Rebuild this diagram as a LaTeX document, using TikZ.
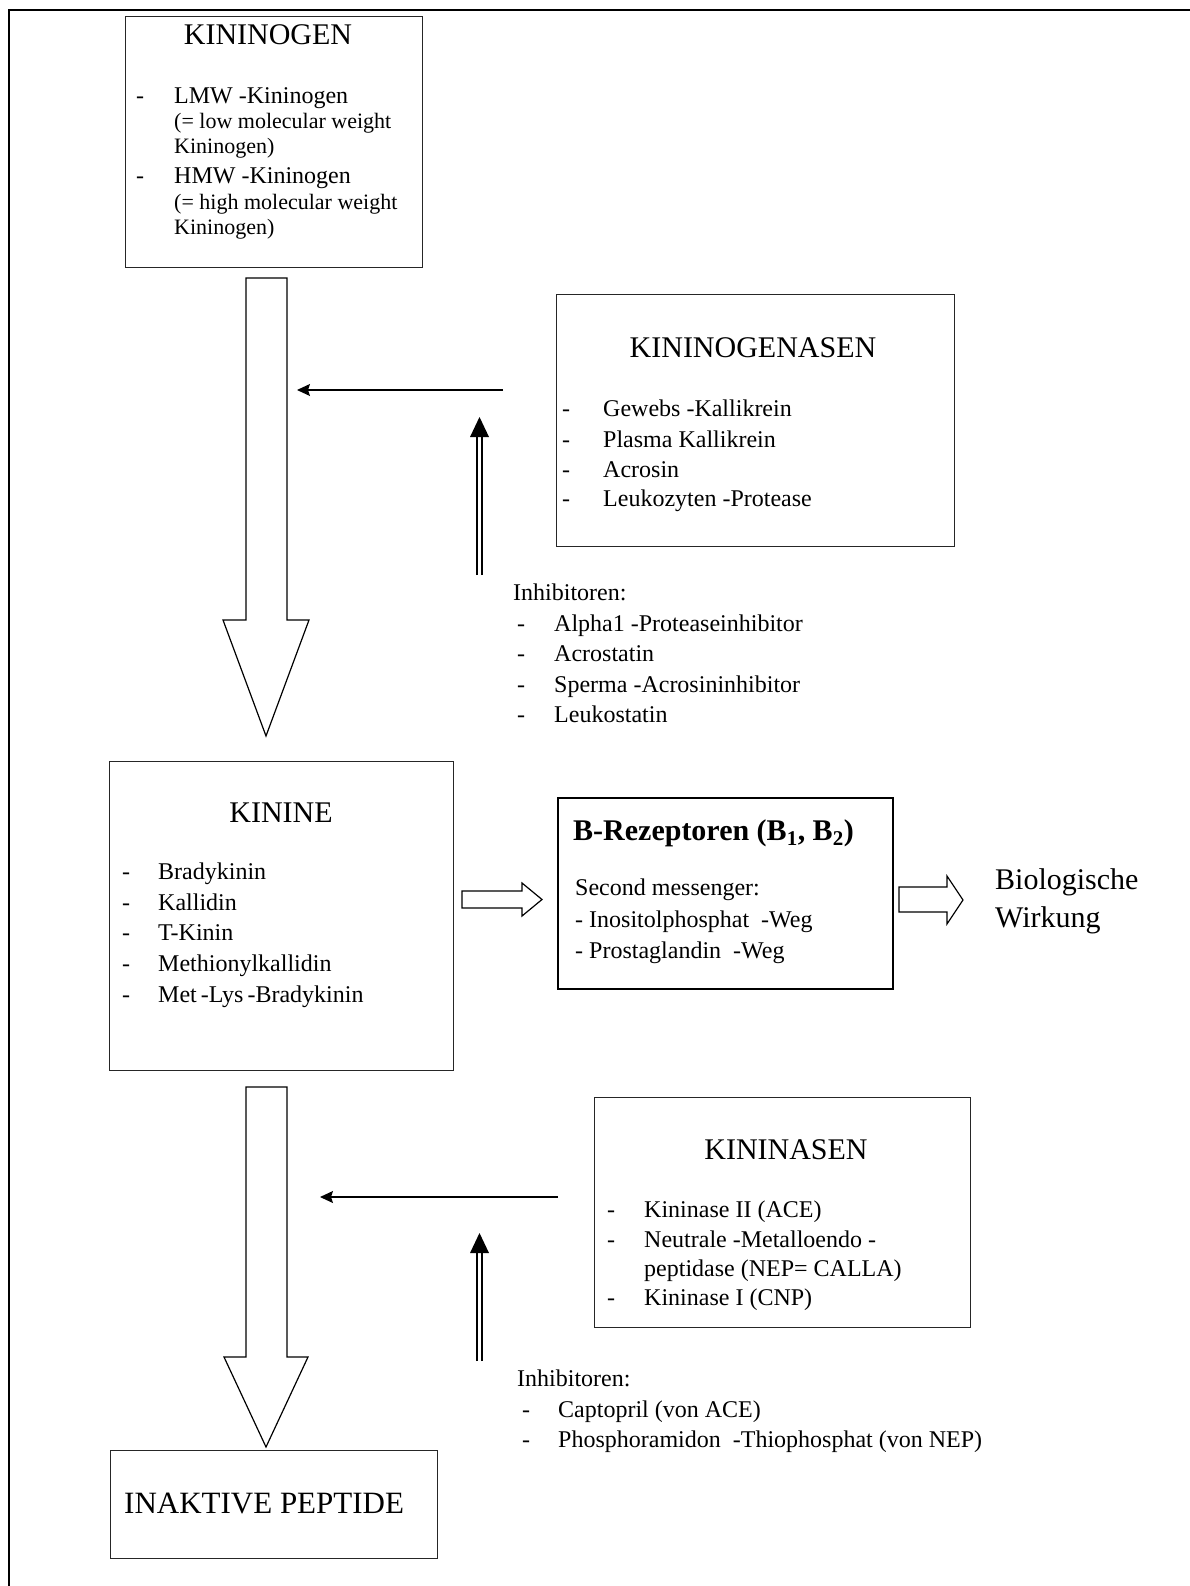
\documentclass[tikz,border=0pt]{standalone}
\usepackage{fontspec}
\setmainfont{Liberation Serif}
\usetikzlibrary{arrows.meta}
\begin{document}
\begin{tikzpicture}[x=1pt,y=-1pt,
  box/.style={draw=black!85, line width=1.2pt, inner sep=0pt, anchor=north west},
  ttl/.style={font=\fontsize{30}{36}\selectfont, inner sep=0pt, anchor=base},
  txt/.style={font=\fontsize{24}{30}\selectfont, inner sep=0pt, anchor=base west},
  sml/.style={font=\fontsize{22}{26}\selectfont, inner sep=0pt, anchor=base west},
  big/.style={font=\fontsize{30}{36}\selectfont, inner sep=0pt, anchor=base west},
  hol/.style={draw, line width=1.2pt, fill=white, line join=miter},
  thinarr/.style={line width=1.2pt, -{Stealth[length=13pt,width=12pt,inset=2pt]}},
  dbl/.style={line width=1.1pt},
]
\useasboundingbox (0,0) rectangle (1190,1586);
\fill[white] (0,0) rectangle (1190,1586);
\draw[line width=2.5pt] (9,1590) -- (9,10) -- (1192,10);

% ---------- KININOGEN ----------
\node[box, minimum width=297pt, minimum height=251pt] (kgbox) at (125,16) {};
\node[ttl] (kgt) at (268,45) {KININOGEN};
\node[txt] (kgd1) at (136,104) {-};
\node[txt] (kg1) at (174,104) {LMW -Kininogen};
\node[sml] (kg1a) at (174,129) {(= low molecular weight};
\node[sml] (kg1b) at (174,154) {Kininogen)};
\node[txt] (kgd2) at (136,184) {-};
\node[txt] (kg2) at (174,184) {HMW -Kininogen};
\node[sml] (kg2a) at (174,210) {(= high molecular weight};
\node[sml] (kg2b) at (174,235) {Kininogen)};

% big arrow 1
\draw[hol] (246,278) -- (287,278) -- (287,620) -- (309,620) -- (266,736) -- (223,620) -- (246,620) -- cycle;

% ---------- KININOGENASEN ----------
\node[box, minimum width=398pt, minimum height=252pt] (kgabox) at (556,294) {};
\node[ttl] (kgat) at (753,357) {KININOGENASEN};
\foreach \y/\t [count=\i] in {416/Gewebs -Kallikrein, 447/Plasma Kallikrein, 477/Acrosin, 506/Leukozyten -Protease}{
  \node[txt] (kgad\i) at (562,\y) {-};
  \node[txt] (kga\i) at (603,\y) {\t};
}
\coordinate (h1s) at (503,390);
\coordinate (h1e) at (297,390);
\draw[thinarr] (h1s) -- (h1e);

% inhibitor arrow 1
\coordinate (i1b) at (479.5,575);
\coordinate (i1t) at (479.5,417);
\draw[dbl] ([xshift=-2.5pt]i1b) -- ([xshift=-2.5pt,yshift=-16pt]i1t);
\draw[dbl] ([xshift=2.5pt]i1b) -- ([xshift=2.5pt,yshift=-16pt]i1t);
\fill (i1t) -- ([xshift=-9.5pt,yshift=-20pt]i1t) -- ([xshift=9.5pt,yshift=-20pt]i1t) -- cycle;

\node[txt] (inh1) at (513,600) {Inhibitoren:};
\foreach \y/\t [count=\i] in {631/Alpha1 -Proteaseinhibitor, 661/Acrostatin, 692/Sperma -Acrosininhibitor, 722/Leukostatin}{
  \node[txt] (inh1d\i) at (517,\y) {-};
  \node[txt] (inh1t\i) at (554,\y) {\t};
}

% ---------- KININE ----------
\node[box, minimum width=344pt, minimum height=309pt] (knbox) at (109,761) {};
\node[ttl] (knt) at (281,822) {KININE};
\foreach \y/\t [count=\i] in {879/Bradykinin, 910/Kallidin, 940/T-Kinin, 971/Methionylkallidin, 1002/Met\,-Lys\,-Bradykinin}{
  \node[txt] (knd\i) at (122,\y) {-};
  \node[txt] (kn\i) at (158,\y) {\t};
}

% hollow arrow A
\draw[hol] (462,891) -- (522,891) -- (522,883) -- (542,899.5) -- (522,916) -- (522,908) -- (462,908) -- cycle;

% ---------- Rezeptoren ----------
\node[box, draw=black, line width=1.5pt, minimum width=335pt, minimum height=191pt] (rbox) at (557,797) {};
\node[big, font=\fontsize{30}{36}\selectfont\bfseries] (rt) at (573,840) {B-Rezeptoren (B\textsubscript{1}, B\textsubscript{2})};
\node[txt] (r1) at (575,895) {Second messenger:};
\node[txt] (r2) at (575,927) {- Inositolphosphat\ \ -Weg};
\node[txt] (r3) at (575,958) {- Prostaglandin\ \ -Weg};

% hollow arrow B
\draw[hol] (899,887) -- (947,887) -- (947,876) -- (963,900) -- (947,924) -- (947,912) -- (899,912) -- cycle;
\node[big] (bw1) at (995,889) {Biologische};
\node[big] (bw2) at (995,927) {Wirkung};

% big arrow 2
\draw[hol] (246,1087) -- (287,1087) -- (287,1357) -- (308,1357) -- (266,1447) -- (224,1357) -- (246,1357) -- cycle;

% ---------- KININASEN ----------
\node[box, minimum width=376pt, minimum height=230pt] (kabox) at (594,1097) {};
\node[ttl] (kat) at (786,1159) {KININASEN};
\node[txt] (kad1) at (607,1217) {-};
\node[txt] (ka1) at (644,1217) {Kininase II (ACE)};
\node[txt] (kad2) at (607,1247) {-};
\node[txt] (ka2) at (644,1247) {Neutrale -Metalloendo -};
\node[txt] (ka2b) at (644,1276) {peptidase (NEP= CALLA)};
\node[txt] (kad3) at (607,1305) {-};
\node[txt] (ka3) at (644,1305) {Kininase I (CNP)};

\coordinate (h2s) at (558,1197);
\coordinate (h2e) at (320,1197);
\draw[thinarr] (h2s) -- (h2e);

% inhibitor arrow 2
\coordinate (i2b) at (479.5,1361);
\coordinate (i2t) at (479.5,1233);
\draw[dbl] ([xshift=-2.5pt]i2b) -- ([xshift=-2.5pt,yshift=-16pt]i2t);
\draw[dbl] ([xshift=2.5pt]i2b) -- ([xshift=2.5pt,yshift=-16pt]i2t);
\fill (i2t) -- ([xshift=-9.5pt,yshift=-20pt]i2t) -- ([xshift=9.5pt,yshift=-20pt]i2t) -- cycle;

\node[txt] (inh2) at (517,1386) {Inhibitoren:};
\node[txt] (inh2d1) at (522,1417) {-};
\node[txt] (inh2t1) at (558,1417) {Captopril (von ACE)};
\node[txt] (inh2d2) at (522,1447) {-};
\node[txt] (inh2t2) at (558,1447) {Phosphoramidon\ \ -Thiophosphat (von NEP)};

% ---------- INAKTIVE PEPTIDE ----------
\node[box, minimum width=327pt, minimum height=108pt] (ipbox) at (110,1450) {};
\node[big, font=\fontsize{31}{36}\selectfont] (ipt) at (124,1513) {INAKTIVE PEPTIDE};
\end{tikzpicture}
\end{document}
